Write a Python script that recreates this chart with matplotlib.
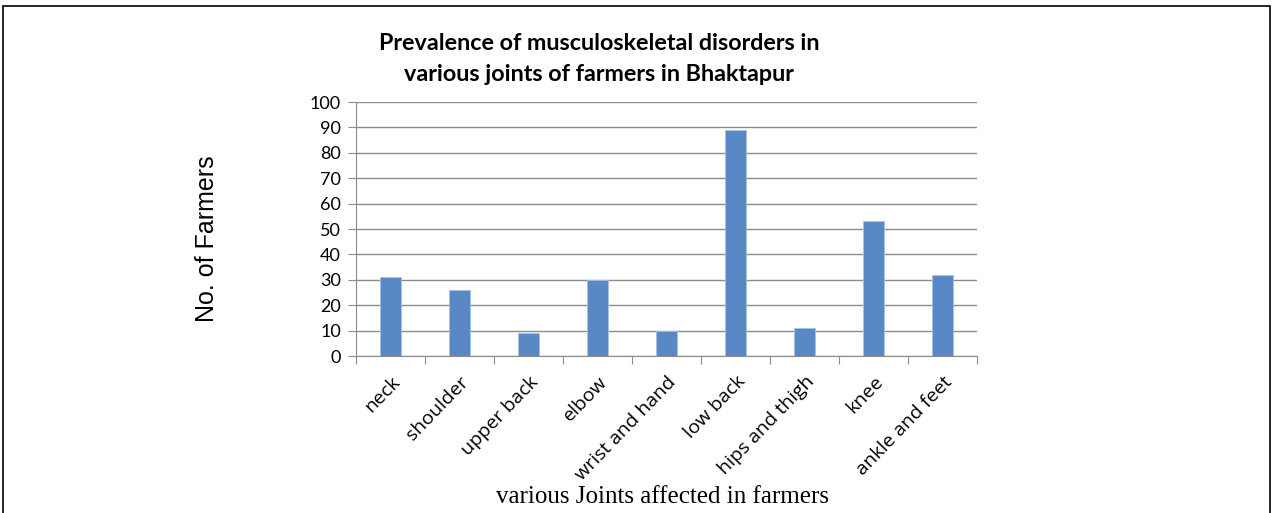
import matplotlib
matplotlib.use('Agg')
import matplotlib.pyplot as plt
from matplotlib.patches import Rectangle

# data
joints = ['neck', 'shoulder', 'upper back', 'elbow', 'wrist and hand',
          'low back', 'hips and thigh', 'knee', 'ankle and feet']
farmers = [31, 26, 9, 30, 10, 89, 11, 53, 32]
y_ticks = list(range(0, 101, 10))

fig = plt.figure(figsize=(12.73, 5.13), dpi=100)
ax = fig.add_axes([0.2797, 0.306, 0.4878, 0.495])

# border around the whole picture (bottom edge is cut off)
fig.patches.append(Rectangle((3 / 1273, -0.05), 1267 / 1273, 1.05 - 6 / 513,
                             transform=fig.transFigure, fill=False,
                             edgecolor='black', linewidth=1.2))

x = range(len(joints))
ax.bar(x, farmers, width=0.31, color='#5889c4', edgecolor='#a9c2e3',
       linewidth=0.6, zorder=3)

ax.set_xlim(-0.5, len(joints) - 0.5)
ax.set_ylim(0, 100)
ax.set_yticks(y_ticks)
ax.set_yticklabels([str(t) for t in y_ticks], fontsize=13, family='Lato')
ax.grid(axis='y', color='#8c8c8c', linewidth=1.0, zorder=0)

# category ticks on the boundaries
ax.set_xticks([i - 0.5 for i in range(len(joints) + 1)])
ax.set_xticklabels([])
ax.set_xticks(list(x), minor=True)
ax.set_xticklabels(joints, minor=True, rotation=46, ha='right',
                   rotation_mode='anchor', fontsize=14, family='Open Sans')
ax.tick_params(axis='x', which='minor', length=0, pad=12)
ax.tick_params(axis='x', which='major', length=6, color='#8c8c8c')
ax.tick_params(axis='y', length=6, color='#8c8c8c', pad=5)

for side in ['top', 'right']:
    ax.spines[side].set_visible(False)
ax.spines['left'].set_color('#8c8c8c')
ax.spines['bottom'].set_color('#8c8c8c')

title_font = ['Lato', 'DejaVu Sans']
fig.text(599 / 1273, 1 - 44 / 513, 'Prevalence of musculoskeletal disorders in',
         ha='center', va='center', fontsize=16.8, fontweight='bold', family=title_font)
fig.text(599 / 1273, 1 - 75 / 513, 'various joints of farmers in Bhaktapur',
         ha='center', va='center', fontsize=16.8, fontweight='bold', family=title_font)

fig.text(207 / 1273, 1 - 239 / 513, 'No. of Farmers', rotation=90,
         ha='center', va='center', fontsize=18, family='Liberation Sans')
fig.text(663 / 1273, 1 - 497 / 513, 'various Joints affected in farmers',
         ha='center', va='center', fontsize=18, family='Liberation Serif')

fig.savefig('out.png', dpi=100)
